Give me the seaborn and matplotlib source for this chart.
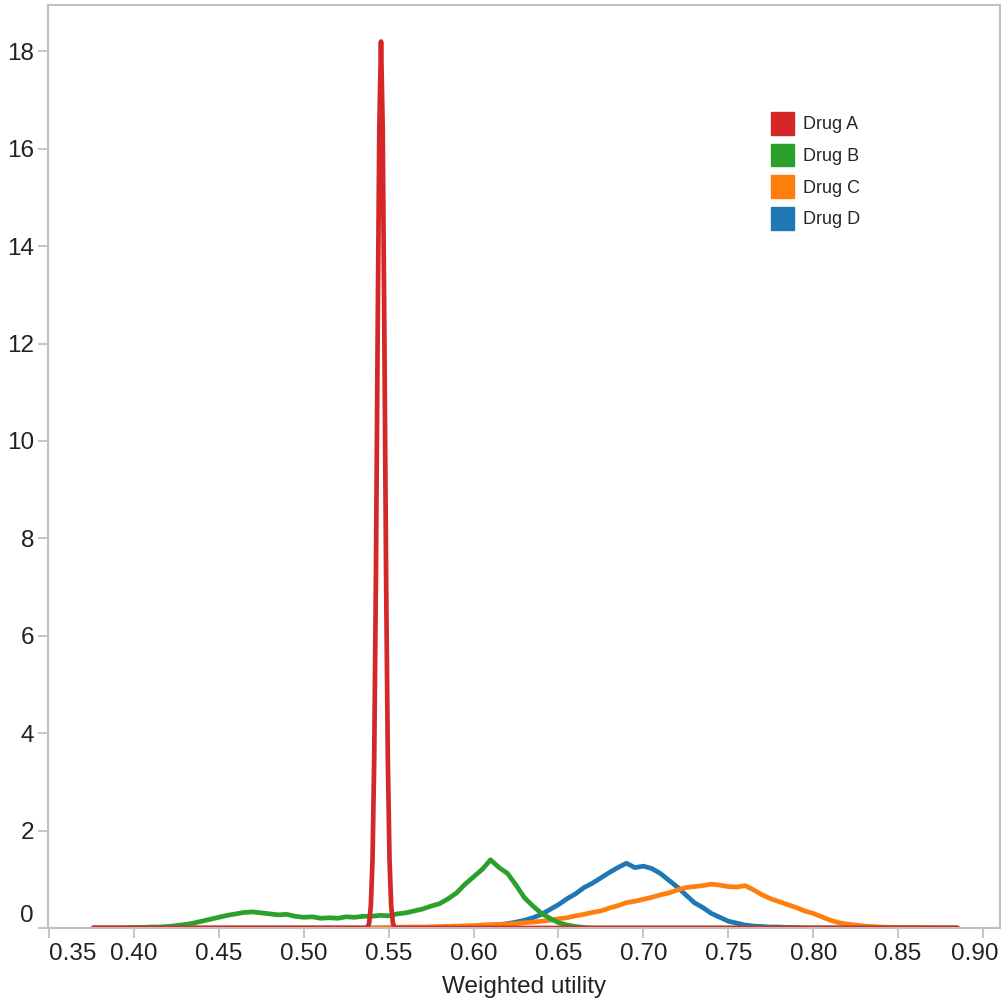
import numpy as np
import pandas as pd
import matplotlib
matplotlib.use("Agg")
import matplotlib.pyplot as plt
import matplotlib.transforms as mtransforms
from matplotlib.patches import Patch
import seaborn as sns

# ---------------- data ----------------
drugs = ["Drug A", "Drug B", "Drug C", "Drug D"]
colors = ["#d62728", "#2ca02c", "#ff7f0e", "#1f77b4"]

x_a = [0.376, 0.5375, 0.5385, 0.5395, 0.5405, 0.5415, 0.5425, 0.5435, 0.5445,
       0.5455, 0.5465, 0.5475, 0.5485, 0.5495, 0.5505, 0.5515, 0.5525, 0.5535, 0.885]
y_a = [0.0, 0.0, 0.1, 0.45, 1.4, 3.5, 7.2, 12.1, 16.4,
       18.2, 16.4, 12.1, 7.2, 3.5, 1.4, 0.45, 0.1, 0.0, 0.0]

x_b = [0.376, 0.395, 0.400, 0.405, 0.410, 0.415, 0.420, 0.425, 0.430, 0.435, 0.440,
       0.445, 0.450, 0.455, 0.460, 0.465, 0.470, 0.475, 0.480, 0.485, 0.490,
       0.495, 0.500, 0.505, 0.510, 0.515, 0.520, 0.525, 0.530, 0.535, 0.540,
       0.545, 0.550, 0.555, 0.560, 0.565, 0.570, 0.575, 0.580, 0.585, 0.590,
       0.595, 0.600, 0.605, 0.610, 0.615, 0.620, 0.625, 0.630, 0.635, 0.640,
       0.645, 0.650, 0.655, 0.660, 0.665, 0.670, 0.885]
y_b = [0.0, 0.0, 0.01, 0.01, 0.02, 0.02, 0.03, 0.05, 0.07, 0.10, 0.14,
       0.18, 0.22, 0.26, 0.29, 0.32, 0.33, 0.31, 0.29, 0.27, 0.28,
       0.24, 0.22, 0.23, 0.20, 0.21, 0.20, 0.23, 0.22, 0.24, 0.24,
       0.26, 0.25, 0.29, 0.31, 0.35, 0.39, 0.45, 0.50, 0.60, 0.72,
       0.90, 1.05, 1.20, 1.40, 1.24, 1.12, 0.88, 0.62, 0.45, 0.30,
       0.20, 0.11, 0.06, 0.03, 0.01, 0.0, 0.0]

x_c = [0.376, 0.540, 0.550, 0.560, 0.570, 0.580, 0.590, 0.600, 0.605, 0.610, 0.615,
       0.620, 0.625, 0.630, 0.635, 0.640, 0.645, 0.650, 0.655, 0.660, 0.665,
       0.670, 0.675, 0.680, 0.685, 0.690, 0.695, 0.700, 0.705, 0.710, 0.715,
       0.720, 0.725, 0.730, 0.735, 0.740, 0.745, 0.750, 0.755, 0.760, 0.765,
       0.770, 0.775, 0.780, 0.785, 0.790, 0.795, 0.800, 0.805, 0.810, 0.815,
       0.820, 0.825, 0.830, 0.835, 0.840, 0.850, 0.860, 0.870, 0.885]
y_c = [0.0, 0.0, 0.01, 0.02, 0.02, 0.03, 0.04, 0.05, 0.06, 0.07, 0.07,
       0.08, 0.09, 0.11, 0.12, 0.14, 0.16, 0.19, 0.21, 0.25, 0.28,
       0.32, 0.35, 0.41, 0.46, 0.52, 0.55, 0.59, 0.63, 0.68, 0.72,
       0.78, 0.83, 0.85, 0.87, 0.90, 0.88, 0.85, 0.84, 0.87, 0.78,
       0.68, 0.60, 0.54, 0.48, 0.42, 0.35, 0.30, 0.23, 0.16, 0.11,
       0.08, 0.06, 0.04, 0.03, 0.02, 0.01, 0.01, 0.0, 0.0]

x_d = [0.376, 0.590, 0.595, 0.600, 0.605, 0.610, 0.615, 0.620, 0.625, 0.630, 0.635,
       0.640, 0.645, 0.650, 0.655, 0.660, 0.665, 0.670, 0.675, 0.680, 0.685,
       0.690, 0.695, 0.700, 0.705, 0.710, 0.715, 0.720, 0.725, 0.730, 0.735,
       0.740, 0.745, 0.750, 0.755, 0.760, 0.765, 0.770, 0.775, 0.780, 0.785,
       0.790, 0.795, 0.800, 0.885]
y_d = [0.0, 0.0, 0.01, 0.02, 0.03, 0.05, 0.07, 0.09, 0.12, 0.16, 0.21,
       0.28, 0.38, 0.48, 0.60, 0.70, 0.83, 0.92, 1.03, 1.14, 1.24,
       1.33, 1.24, 1.27, 1.22, 1.12, 0.98, 0.84, 0.68, 0.52, 0.42,
       0.30, 0.22, 0.14, 0.10, 0.06, 0.04, 0.03, 0.02, 0.02, 0.01,
       0.01, 0.0, 0.0, 0.0]

x_ticks = [0.35, 0.40, 0.45, 0.50, 0.55, 0.60, 0.65, 0.70, 0.75, 0.80, 0.85, 0.90]
y_ticks = [0, 2, 4, 6, 8, 10, 12, 14, 16, 18]

df = pd.concat([
    pd.DataFrame({"x": x_a, "y": y_a, "drug": "Drug A"}),
    pd.DataFrame({"x": x_b, "y": y_b, "drug": "Drug B"}),
    pd.DataFrame({"x": x_c, "y": y_c, "drug": "Drug C"}),
    pd.DataFrame({"x": x_d, "y": y_d, "drug": "Drug D"}),
], ignore_index=True)

# ---------------- figure ----------------
sns.set_style("white")
plt.rcParams["font.family"] = ["Liberation Sans", "DejaVu Sans"]

fig = plt.figure(figsize=(10.01, 9.99), dpi=100)
ax = fig.add_axes([48 / 1001, 1 - 928 / 999, (1000 - 48) / 1001, (928 - 5) / 999])

palette = dict(zip(drugs, colors))
# draw D, C, B first and A on top
for d in ["Drug D", "Drug C", "Drug B", "Drug A"]:
    sns.lineplot(data=df[df["drug"] == d], x="x", y="y", color=palette[d],
                 linewidth=3.4, ax=ax, sort=False, estimator=None, legend=False)

ax.set_xlim(0.3494, 0.910)
ax.set_ylim(0.0, 18.95)
ax.set_xticks(x_ticks)
ax.set_xticklabels([f"{t:.2f}" for t in x_ticks])
ax.set_yticks(y_ticks)
ax.set_yticklabels([str(t) for t in y_ticks])

spine_col = "#c0c0c0"
for s in ax.spines.values():
    s.set_visible(True)
    s.set_color(spine_col)
    s.set_linewidth(1.5)

ax.tick_params(axis="y", which="major", left=True, length=7, width=1.3, color=spine_col,
               labelsize=17.5, labelcolor="#222222", pad=3)
ax.tick_params(axis="x", which="major", bottom=True, length=7, width=1.3, color=spine_col,
               labelsize=17.5, labelcolor="#222222", pad=4)

# keep edge labels inside the plot, as in the reference
lbl0 = ax.get_yticklabels()[0]
lbl0.set_transform(lbl0.get_transform() + mtransforms.ScaledTranslation(0, 15 / 100, fig.dpi_scale_trans))
xl = ax.get_xticklabels()
xl[0].set_horizontalalignment("left")
xl[-1].set_transform(xl[-1].get_transform() + mtransforms.ScaledTranslation(-8 / 100, 0, fig.dpi_scale_trans))

ax.set_xlabel("Weighted utility", fontsize=17.5, color="#222222", labelpad=8)
ax.set_ylabel("")

handles = [Patch(facecolor=c, edgecolor=c) for c in colors]
ax.legend(handles, drugs, loc="upper left", bbox_to_anchor=(771 / 1001, 1 - 112 / 999),
          bbox_transform=fig.transFigure, frameon=False, fontsize=13,
          handlelength=1.3, handleheight=1.55, labelspacing=0.5, handletextpad=0.45,
          borderpad=0, borderaxespad=0)

fig.savefig("out.png", dpi=100, facecolor="white")
